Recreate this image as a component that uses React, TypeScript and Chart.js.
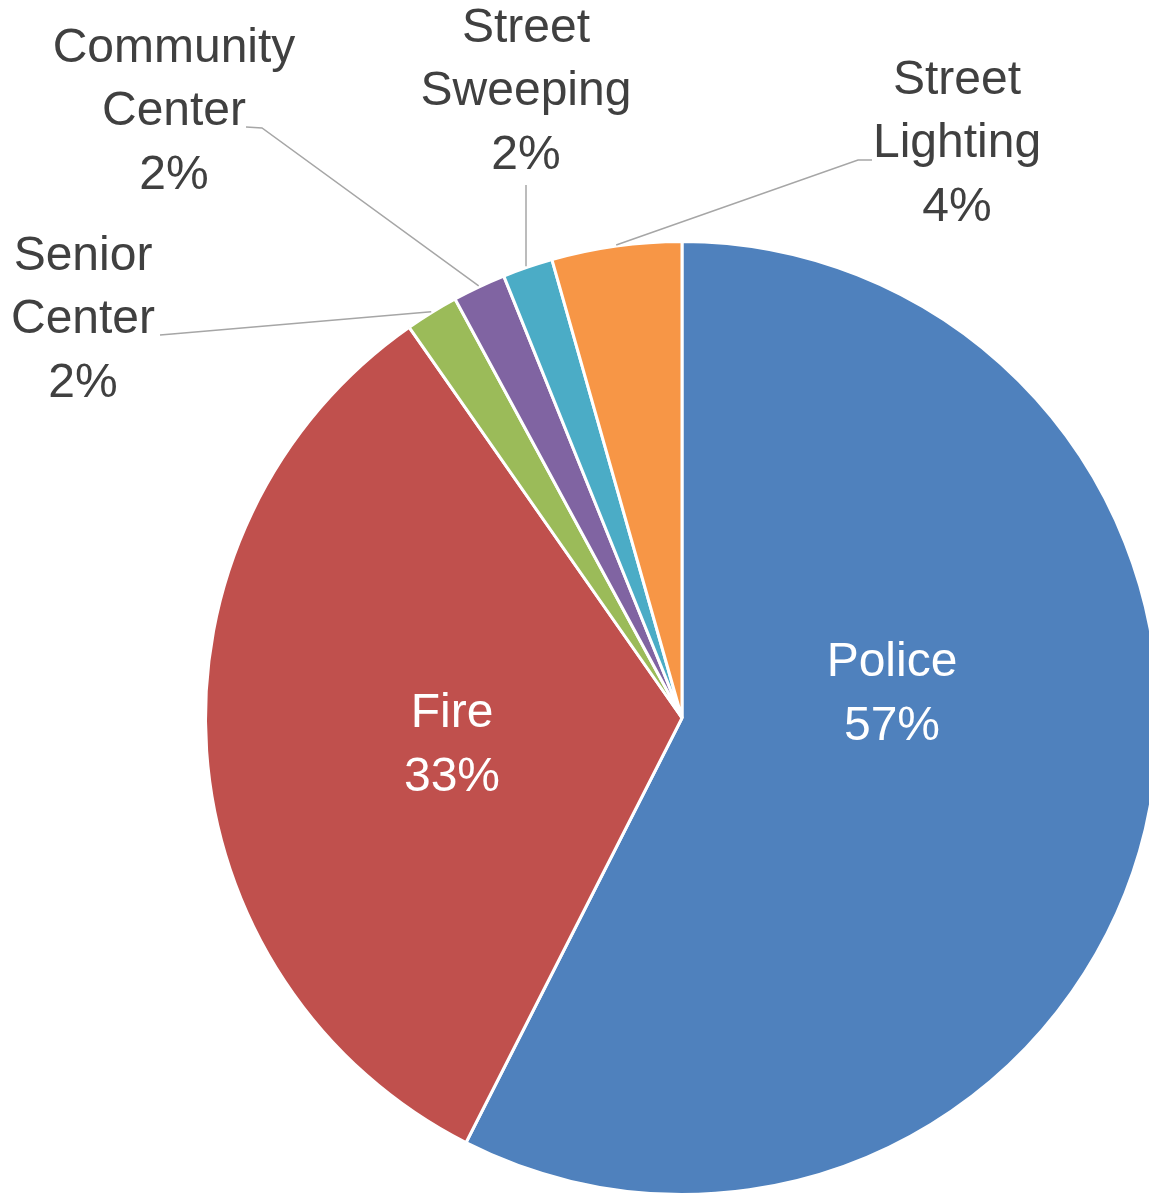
import React, { useEffect, useRef } from "react";
import Chart from "chart.js/auto";

const categories = ["Police", "Fire", "Senior Center", "Community Center", "Street Sweeping", "Street Lighting"];
const values = [57.49, 32.81, 1.8, 1.8, 1.7, 4.4];
const colors = ["#4F81BD", "#C0504D", "#9BBB59", "#8064A2", "#4BACC6", "#F79646"];

// label layout: text block centre, and leader line elbow/end (null for inside labels)
const labelLayout = [
  { cx: 892, cy: 695, inside: true, elbow: null, end: null },
  { cx: 452, cy: 746, inside: true, elbow: null, end: null },
  { cx: 83, cy: 320, inside: false, elbow: [172, 334], end: [160, 335] },
  { cx: 174, cy: 112, inside: false, elbow: [262, 128], end: [246, 127] },
  { cx: 526, cy: 92, inside: false, elbow: null, end: [526, 185] },
  { cx: 957, cy: 144, inside: false, elbow: [858, 160], end: [872, 160] },
];

const FONT = "48px 'Liberation Sans', Arial, sans-serif";
const LINE_H = 63.5;

const labelPlugin = {
  id: "pieLabels",
  afterDatasetsDraw(chart: any) {
    const ctx = chart.ctx;
    const meta = chart.getDatasetMeta(0);
    const data = chart.data.datasets[0].data as number[];
    const total = data.reduce((a, b) => a + b, 0);
    ctx.save();
    meta.data.forEach((arc: any, i: number) => {
      const p = arc.getProps(["x", "y", "startAngle", "endAngle", "outerRadius"], true);
      const lay = labelLayout[i];
      const mid = (p.startAngle + p.endAngle) / 2;
      if (!lay.inside && lay.end) {
        const sx = p.x + Math.cos(mid) * (p.outerRadius + 1);
        const sy = p.y + Math.sin(mid) * (p.outerRadius + 1);
        ctx.beginPath();
        ctx.strokeStyle = "#A6A6A6";
        ctx.lineWidth = 1.5;
        if (lay.elbow) {
          ctx.moveTo(sx, sy);
          ctx.lineTo(lay.elbow[0], lay.elbow[1]);
          ctx.lineTo(lay.end[0], lay.end[1]);
        } else {
          ctx.moveTo(lay.end[0], sy);
          ctx.lineTo(lay.end[0], lay.end[1]);
        }
        ctx.stroke();
      }
      const lines = String(chart.data.labels[i]).split(" ");
      lines.push(Math.round((data[i] / total) * 100) + "%");
      ctx.font = FONT;
      ctx.fillStyle = lay.inside ? "#FFFFFF" : "#404040";
      ctx.textAlign = "center";
      ctx.textBaseline = "middle";
      const n = lines.length;
      lines.forEach((t, k) => {
        ctx.fillText(t, lay.cx, lay.cy + (k - (n - 1) / 2) * LINE_H);
      });
    });
    ctx.restore();
  },
};

export default function App() {
  const ref = useRef<HTMLCanvasElement>(null);
  useEffect(() => {
    document.body.style.margin = "0";
    const chart = new Chart(ref.current as HTMLCanvasElement, {
      type: "pie",
      data: {
        labels: categories,
        datasets: [
          {
            data: values,
            backgroundColor: colors,
            borderColor: "#FFFFFF",
            borderWidth: 3,
          },
        ],
      },
      options: {
        responsive: false,
        animation: false,
        layout: { padding: { left: 204, top: 240, right: 1180 - 204 - 956, bottom: 1210 - 240 - 956 } },
        plugins: { legend: { display: false }, tooltip: { enabled: false } },
      },
      plugins: [labelPlugin],
    });
    return () => chart.destroy();
  }, []);
  return (
    <div style={{ position: "absolute", left: 0, top: 0, width: 1149, height: 1193, overflow: "hidden", background: "#fff" }}>
      <canvas ref={ref} width={1180} height={1210} style={{ width: 1180, height: 1210, display: "block" }} />
    </div>
  );
}
